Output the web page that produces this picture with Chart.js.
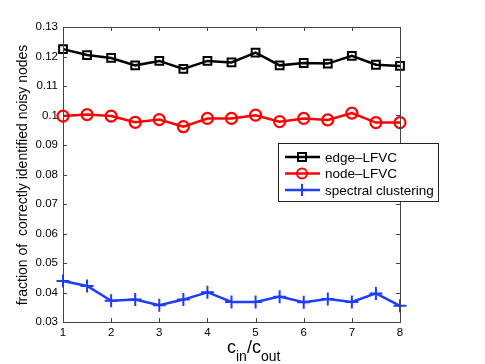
<!DOCTYPE html>
<html>
<head>
<meta charset="utf-8">
<script src="https://cdn.jsdelivr.net/npm/chart.js@4"></script>
<style>
  html, body { margin: 0; padding: 0; background: #fff; }
  #wrap { width: 485px; height: 364px; }
</style>
</head>
<body>
<div id="wrap"><canvas id="chart" width="485" height="364"></canvas></div>
<script>
// ratio c_in / c_out
const ratios = [1, 1.5, 2, 2.5, 3, 3.5, 4, 4.5, 5, 5.5, 6, 6.5, 7, 7.5, 8];
const edgeLFVC = [0.1225, 0.1205, 0.1195, 0.117, 0.1185, 0.1158, 0.1185, 0.118, 0.1213, 0.117, 0.1178, 0.1176, 0.1202, 0.1172, 0.1168];
const nodeLFVC = [0.0998, 0.1003, 0.0998, 0.0977, 0.0986, 0.0962, 0.0990, 0.0990, 0.1001, 0.0979, 0.0990, 0.0985, 0.1008, 0.0976, 0.0976];
const spectral = [0.0439, 0.0422, 0.0372, 0.0376, 0.0357, 0.0376, 0.0401, 0.0368, 0.0368, 0.0386, 0.0367, 0.0378, 0.0368, 0.0397, 0.0355];
const xTicks = [1, 2, 3, 4, 5, 6, 7, 8];
const yTicks = [0.03, 0.04, 0.05, 0.06, 0.07, 0.08, 0.09, 0.1, 0.11, 0.12, 0.13];

const FONT = "'Liberation Sans', Arial, sans-serif";
const BLUE = "#1f3dff";

function pts(ys) {
  return ratios.map((x, i) => ({ x: x, y: ys[i] }));
}

// box, inward ticks, axis titles, legend
const matlabAxes = {
  id: "matlabAxes",
  afterDraw(chart) {
    const ctx = chart.ctx;
    const a = chart.chartArea;
    const xs = chart.scales.x, ys = chart.scales.y;
    ctx.save();
    ctx.strokeStyle = "#444";
    ctx.lineWidth = 1;
    ctx.beginPath();
    xTicks.forEach(t => {
      const px = Math.round(xs.getPixelForValue(t)) + 0.5;
      ctx.moveTo(px, a.bottom); ctx.lineTo(px, a.bottom - 4);
      ctx.moveTo(px, a.top); ctx.lineTo(px, a.top + 4);
    });
    yTicks.forEach(t => {
      const py = Math.round(ys.getPixelForValue(t)) + 0.5;
      ctx.moveTo(a.left, py); ctx.lineTo(a.left + 4, py);
      ctx.moveTo(a.right, py); ctx.lineTo(a.right - 4, py);
    });
    ctx.stroke();
    ctx.strokeRect(Math.round(a.left) + 0.5, Math.round(a.top) + 0.5,
      Math.round(a.right - a.left), Math.round(a.bottom - a.top));

    // y title
    ctx.fillStyle = "#000";
    ctx.font = "14px " + FONT;
    ctx.textAlign = "center";
    ctx.textBaseline = "middle";
    ctx.translate(23, 175);
    ctx.rotate(-Math.PI / 2);
    ctx.fillText("fraction of  correctly identified noisy nodes", 0, 0);
    ctx.setTransform(1, 0, 0, 1, 0, 0);

    // x title c_in/c_out
    ctx.textAlign = "left";
    ctx.textBaseline = "alphabetic";
    const big = "18px " + FONT, small = "14px " + FONT;
    const parts = [["c", big, 0], ["in", small, 8], ["/c", big, 0], ["out", small, 8]];
    let x = 227;
    const base = 353;
    parts.forEach(p => {
      ctx.font = p[1];
      ctx.fillText(p[0], x, base + p[2]);
      x += ctx.measureText(p[0]).width;
    });

    // legend
    const lx = 278, ly = 143, lw = 160, lh = 58;
    ctx.fillStyle = "#fff";
    ctx.fillRect(lx, ly, lw, lh);
    ctx.strokeStyle = "#222";
    ctx.lineWidth = 1;
    ctx.strokeRect(lx + 0.5, ly + 0.5, lw, lh);
    const items = [
      ["edge\u2013LFVC", "#000", "rect"],
      ["node\u2013LFVC", "red", "circle"],
      ["spectral clustering", BLUE, "cross"]
    ];
    ctx.font = "13.5px " + FONT;
    ctx.textBaseline = "middle";
    items.forEach((it, i) => {
      const cy = ly + 14 + i * 16.5;
      ctx.strokeStyle = it[1];
      ctx.lineWidth = 2.5;
      ctx.beginPath();
      ctx.moveTo(lx + 7, cy); ctx.lineTo(lx + 42, cy);
      ctx.stroke();
      ctx.lineWidth = 2;
      const mx = lx + 24;
      ctx.beginPath();
      if (it[2] === "rect") ctx.rect(mx - 4, cy - 4, 8, 8);
      else if (it[2] === "circle") ctx.arc(mx, cy, 5, 0, Math.PI * 2);
      else { ctx.moveTo(mx, cy - 6); ctx.lineTo(mx, cy + 6); }
      ctx.stroke();
      ctx.fillStyle = "#000";
      ctx.fillText(it[0], lx + 47, cy + 1);
    });
    ctx.restore();
  }
};

new Chart(document.getElementById("chart"), {
  type: "line",
  data: {
    datasets: [
      {
        label: "edge-LFVC",
        data: pts(edgeLFVC),
        borderColor: "#000",
        borderWidth: 2.5,
        pointStyle: "rect",
        pointRadius: 5.5,
        pointBorderWidth: 2,
        pointBackgroundColor: "rgba(0,0,0,0)",
        pointBorderColor: "#000"
      },
      {
        label: "node-LFVC",
        data: pts(nodeLFVC),
        borderColor: "red",
        borderWidth: 2.5,
        pointStyle: "circle",
        pointRadius: 5.5,
        pointBorderWidth: 2.2,
        pointBackgroundColor: "rgba(0,0,0,0)",
        pointBorderColor: "red"
      },
      {
        label: "spectral clustering",
        data: pts(spectral),
        borderColor: BLUE,
        borderWidth: 2.5,
        pointStyle: "cross",
        pointRadius: 6.5,
        pointBorderWidth: 2,
        pointBorderColor: BLUE
      }
    ]
  },
  options: {
    responsive: false,
    animation: false,
    clip: false,
    layout: { padding: { left: 0, right: 85, top: 27, bottom: 0 } },
    plugins: { legend: { display: false }, tooltip: { enabled: false } },
    scales: {
      x: {
        type: "linear",
        min: 1, max: 8,
        afterFit: s => { s.height = 42; },
        afterBuildTicks: s => { s.ticks = xTicks.map(v => ({ value: v })); },
        grid: { display: false, drawTicks: false },
        border: { display: false },
        ticks: { color: "#000", font: { family: FONT, size: 11.5 }, padding: 4, maxRotation: 0 }
      },
      y: {
        min: 0.03, max: 0.13,
        afterFit: s => { s.width = 63; },
        afterBuildTicks: s => { s.ticks = yTicks.map(v => ({ value: v })); },
        grid: { display: false, drawTicks: false },
        border: { display: false },
        ticks: {
          color: "#000", font: { family: FONT, size: 11.5 }, padding: 5,
          callback: v => String(Math.round(v * 100) / 100)
        }
      }
    }
  },
  plugins: [matlabAxes]
});
</script>
</body>
</html>
